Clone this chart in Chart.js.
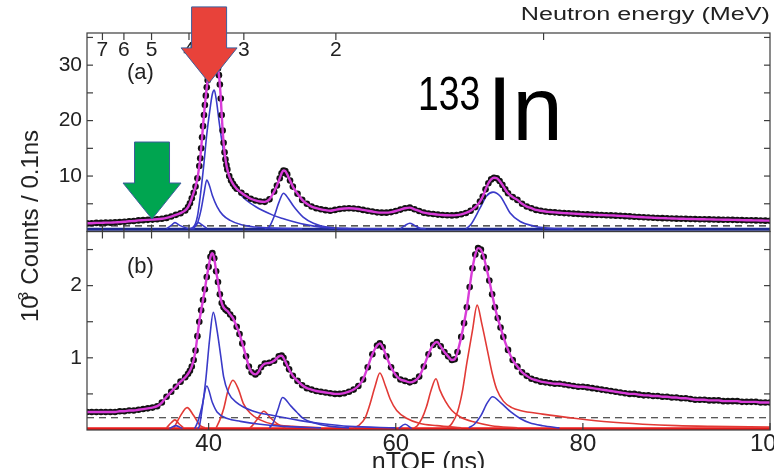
<!DOCTYPE html>
<html><head><meta charset="utf-8">
<script src="https://cdn.jsdelivr.net/npm/chart.js@4.4.1/dist/chart.umd.min.js"></script>
<style>html,body{margin:0;padding:0;background:#fff;}#wrap{width:774px;height:468px;}</style>
</head><body><div id="wrap"><canvas id="c" width="774" height="468"></canvas></div>
<script>
// ---------- axis ticks / labels ----------
const tofTicks = [40, 60, 80, 100];
const yTicksA = [5, 10, 15, 20, 25, 30, 35];
const yLabelsA = [10, 20, 30];
const yTicksB = [0.5, 1, 1.5, 2, 2.5];
const yLabelsB = [1, 2];
const energyTicks = [7, 6, 5, 4, 3, 2, 1];
const energyLabels = ['7', '6', '5', '4', '3', '2', ''];
const FLIGHT_K = 75.8; // ns * sqrt(MeV): nTOF = K / sqrt(E)

// ---------- panel (a): data (fit drawn through the same points) ----------
const dataA = [[27,1.5],[27.5,1.5],[28,1.55],[28.5,1.55],[29,1.6],[29.5,1.6],[30,1.65],[30.5,1.7],[31,1.75],[31.5,1.85],[32,1.9],[32.5,2.0],[33,2.05],[33.5,2.1],[34,2.15],[34.5,2.2],[35,2.3],[35.5,2.45],[36,2.7],[36.5,3.0],[37,3.3],[37.5,3.8],[37.8,4.4],[38.0,5.1],[38.2,6.0],[38.4,7.0],[38.6,8.1],[38.8,9.6],[39.0,11.8],[39.1,13.2],[39.2,15.0],[39.3,17.0],[39.4,19.0],[39.5,21.0],[39.6,22.8],[39.7,24.5],[39.8,26.0],[39.9,27.3],[40.0,28.5],[40.1,29.6],[40.2,30.5],[40.3,31.3],[40.4,31.8],[40.5,32.1],[40.6,32.2],[40.7,32.0],[40.8,31.4],[40.9,30.5],[41.0,29.4],[41.1,28.2],[41.2,26.5],[41.3,24.0],[41.4,21.0],[41.5,18.2],[41.6,16.0],[41.7,14.3],[41.8,13.0],[41.9,12.0],[42.0,11.2],[42.2,10.0],[42.4,9.2],[42.6,8.6],[42.8,8.1],[43.0,7.7],[43.5,7.0],[44,6.4],[44.5,5.9],[45,5.6],[45.5,5.4],[46,5.35],[46.5,5.8],[47,7.2],[47.3,8.3],[47.6,9.6],[47.8,10.5],[48,11.0],[48.2,10.9],[48.4,10.3],[48.7,9.2],[49,8.1],[49.5,6.8],[50,5.7],[50.5,5.0],[51,4.5],[51.5,4.2],[52,4.0],[52.5,3.85],[53,3.75],[53.5,3.9],[54,4.05],[54.5,4.15],[55,4.2],[55.5,4.15],[56,4.05],[56.5,3.9],[57,3.75],[57.5,3.6],[58,3.45],[58.5,3.4],[59,3.4],[59.5,3.5],[60,3.7],[60.5,3.95],[61,4.2],[61.5,4.3],[62,4.0],[62.5,3.7],[63,3.4],[63.5,3.25],[64,3.15],[64.5,3.05],[65,2.97],[65.5,2.92],[66,2.9],[66.5,2.95],[67,3.1],[67.5,3.35],[68,3.75],[68.5,4.4],[69,5.4],[69.3,6.3],[69.6,7.6],[69.9,8.7],[70.2,9.4],[70.5,9.7],[70.8,9.6],[71.1,9.1],[71.4,8.4],[71.7,7.6],[72,6.9],[72.5,6.2],[73,5.7],[73.5,5.0],[74,4.5],[74.5,4.2],[75,3.9],[75.5,3.75],[76,3.6],[76.5,3.52],[77,3.45],[77.5,3.38],[78,3.32],[78.5,3.27],[79,3.22],[79.5,3.17],[80,3.12],[80.5,3.08],[81,3.04],[81.5,3.0],[82,2.97],[82.5,2.93],[83,2.9],[83.5,2.86],[84,2.82],[84.5,2.77],[85,2.72],[85.5,2.67],[86,2.62],[86.5,2.57],[87,2.52],[87.5,2.48],[88,2.44],[88.5,2.41],[89,2.38],[89.5,2.35],[90,2.32],[90.5,2.3],[91,2.28],[91.5,2.26],[92,2.24],[92.5,2.22],[93,2.2],[93.5,2.18],[94,2.16],[94.5,2.14],[95,2.12],[95.5,2.11],[96,2.1],[96.5,2.08],[97,2.06],[97.5,2.04],[98,2.02],[98.5,2.0],[99,1.98],[99.5,1.96],[100,1.95]];

// panel (a) fit components (blue)
const blueA1 = [[38.0,0.5],[38.4,0.8],[38.8,2.7],[39.1,6.3],[39.5,12.3],[39.8,17.5],[40.1,21.5],[40.4,24.8],[40.6,25.5],[40.8,24.0],[41.1,20.1],[41.4,16.5],[41.9,11.7],[42.6,8.7],[43.6,6.3],[45,4.5],[46.8,3.0],[48,2.3],[49,1.8],[50.5,1.2],[52.2,0.75],[55,0.55],[60,0.5]];
const blueA2 = [[38.3,0.5],[38.8,1.5],[39.2,4.0],[39.5,6.8],[39.8,9.3],[40.1,8.2],[40.4,6.5],[40.9,4.5],[41.5,3.0],[42.3,2.0],[43.5,1.2],[45,0.8],[47,0.6],[50,0.5]];
const blueA3 = [[46.0,0.5],[46.5,0.9],[47.0,2.7],[47.5,5.2],[48.0,6.9],[48.5,6.0],[49.1,4.5],[50.1,2.6],[51.2,1.5],[52.6,0.8],[54,0.55],[56,0.5]];
const blueA4 = [[35.5,0.5],[36.0,1.1],[36.4,1.6],[36.9,1.1],[37.7,0.6],[38.5,0.5]];
const blueA5 = [[38.2,0.5],[38.6,1.2],[38.9,1.6],[39.3,1.2],[39.8,0.6]];
const blueA6 = [[60.5,0.5],[61.0,1.1],[61.5,1.5],[62.0,1.1],[62.6,0.6],[63.2,0.5]];
const blueA7 = [[67.5,0.5],[68.0,1.2],[69.0,4.2],[69.7,6.4],[70.4,7.1],[71.2,6.3],[71.7,4.9],[72.2,3.4],[73.3,1.8],[74.7,1.0],[75.7,0.7],[77,0.55],[79,0.5]];
const baseA = [[27,0.4],[100,0.4]];
const dashA = [[27,1.0],[100,1.0]];

// ---------- panel (b) ----------
const dataB = [[27,0.25],[27.5,0.25],[28,0.25],[28.5,0.25],[29,0.25],[29.5,0.25],[30,0.25],[30.5,0.26],[31,0.26],[31.5,0.27],[32,0.27],[32.5,0.28],[33,0.29],[33.5,0.3],[34,0.31],[34.5,0.33],[35,0.38],[35.5,0.46],[36,0.53],[36.5,0.6],[37,0.67],[37.5,0.73],[37.8,0.78],[38.0,0.82],[38.2,0.88],[38.4,0.97],[38.6,1.1],[38.8,1.3],[39.0,1.5],[39.2,1.66],[39.4,1.8],[39.6,1.95],[39.8,2.12],[40.0,2.26],[40.2,2.4],[40.4,2.45],[40.6,2.38],[40.8,2.2],[41.0,2.05],[41.2,1.88],[41.4,1.76],[41.6,1.7],[41.8,1.67],[42.0,1.65],[42.3,1.6],[42.6,1.55],[43.0,1.43],[43.3,1.33],[43.6,1.2],[44.0,1.02],[44.3,0.88],[44.6,0.8],[45.0,0.77],[45.3,0.8],[45.6,0.87],[46,0.92],[46.5,0.93],[47,0.96],[47.5,1.02],[47.8,1.03],[48,1.0],[48.3,0.92],[48.6,0.84],[49,0.75],[49.5,0.68],[50,0.62],[50.5,0.58],[51,0.56],[51.5,0.54],[52,0.53],[52.5,0.52],[53,0.51],[53.5,0.5],[54,0.5],[54.5,0.51],[55,0.53],[55.5,0.56],[56,0.61],[56.5,0.7],[57,0.87],[57.5,1.05],[58,1.17],[58.3,1.2],[58.6,1.15],[59,1.02],[59.5,0.87],[60,0.76],[60.5,0.7],[61,0.68],[61.5,0.66],[62,0.68],[62.5,0.74],[63,0.88],[63.5,1.05],[64,1.18],[64.4,1.22],[64.8,1.16],[65.2,1.08],[65.6,1.02],[66,0.97],[66.3,0.98],[66.6,1.08],[67,1.29],[67.3,1.48],[67.6,1.7],[67.9,1.98],[68.2,2.24],[68.5,2.43],[68.8,2.52],[69.1,2.5],[69.4,2.4],[69.7,2.24],[70.0,2.07],[70.3,1.88],[70.6,1.7],[70.9,1.55],[71.2,1.42],[71.5,1.29],[72,1.11],[72.5,0.97],[73,0.88],[73.5,0.8],[74,0.75],[74.5,0.71],[75,0.69],[75.5,0.67],[76,0.66],[76.5,0.65],[77,0.64],[77.5,0.64],[78,0.63],[78.5,0.62],[79,0.61],[79.5,0.6],[80,0.6],[80.5,0.59],[81,0.58],[81.5,0.57],[82,0.56],[82.5,0.55],[83,0.54],[83.5,0.53],[84,0.52],[84.5,0.51],[85,0.5],[85.5,0.5],[86,0.49],[86.5,0.48],[87,0.48],[87.5,0.47],[88,0.47],[88.5,0.46],[89,0.46],[89.5,0.45],[90,0.45],[90.5,0.44],[91,0.44],[91.5,0.43],[92,0.42],[92.5,0.42],[93,0.42],[93.5,0.41],[94,0.41],[94.5,0.41],[95,0.4],[95.5,0.4],[96,0.4],[96.5,0.4],[97,0.39],[97.5,0.39],[98,0.39],[98.5,0.39],[99,0.38],[99.5,0.38],[100,0.38]];

const blueB1 = [[38.8,0.02],[39.0,0.05],[39.3,0.29],[39.7,0.70],[40.1,1.25],[40.5,1.63],[40.9,1.38],[41.3,1.02],[41.6,0.74],[42.1,0.52],[43.0,0.38],[44.8,0.26],[46.9,0.2],[49.8,0.13],[52,0.09],[55,0.05],[60,0.03]];
const blueB2 = [[38.5,0.02],[38.8,0.1],[39.3,0.33],[39.8,0.61],[40.4,0.38],[40.9,0.25],[42.0,0.16],[43.4,0.12],[45.5,0.08],[48,0.05],[52,0.03]];
const blueB3 = [[46.5,0.03],[46.9,0.1],[47.4,0.28],[47.9,0.45],[48.8,0.33],[49.4,0.25],[50.1,0.16],[51.2,0.1],[53,0.05],[55,0.03]];
const blueB4 = [[67.8,0.03],[68.4,0.08],[69.1,0.2],[69.8,0.38],[70.35,0.46],[71.2,0.38],[72.3,0.25],[73.3,0.16],[74.3,0.1],[75.7,0.06],[77.5,0.03]];
const blueB5 = [[60.3,0.02],[61.0,0.08],[61.7,0.02]];
const blueB6 = [[35.8,0.02],[36.5,0.06],[37.2,0.02]];
const redB1 = [[36.3,0.03],[36.5,0.08],[37.0,0.2],[37.7,0.31],[38.4,0.2],[39.1,0.06],[39.6,0.03]];
const redB2 = [[35.5,0.03],[36.0,0.1],[36.4,0.14],[36.8,0.09],[37.3,0.03]];
const redB3 = [[40.8,0.03],[41.2,0.14],[41.6,0.29],[42.1,0.56],[42.6,0.69],[43.2,0.56],[43.7,0.37],[44.4,0.24],[45.5,0.14],[46.9,0.08],[49,0.05],[52,0.03]];
const redB4 = [[44.4,0.03],[44.6,0.05],[45.2,0.15],[45.9,0.26],[46.6,0.17],[47.4,0.08],[48.2,0.03]];
const redB5 = [[55.5,0.03],[56.0,0.06],[56.7,0.16],[57.2,0.34],[57.8,0.61],[58.3,0.79],[58.9,0.61],[59.4,0.43],[60.1,0.27],[61.2,0.16],[62.6,0.09],[64.4,0.06],[67,0.03]];
const redB6 = [[62.0,0.03],[62.3,0.06],[62.8,0.16],[63.3,0.33],[63.8,0.56],[64.3,0.71],[64.7,0.56],[65.3,0.4],[66.0,0.27],[66.9,0.18],[68.4,0.11],[70.2,0.06],[73,0.03]];
const redB7 = [[65.5,0.03],[66.0,0.09],[66.6,0.25],[67.1,0.52],[67.6,0.93],[68.2,1.38],[68.7,1.73],[69.2,1.47],[69.8,1.1],[70.3,0.79],[70.8,0.56],[71.5,0.40],[72.4,0.31],[73.3,0.27],[75.7,0.22],[79.3,0.16],[82.9,0.11],[86.4,0.08],[90,0.06],[93.6,0.05],[100,0.04]];
const baseB = [[27,0.015],[100,0.015]];
const dashB = [[27,0.17],[100,0.17]];

// annotation anchors (data coordinates, panel a)
const arrowRed = {t: 40.05, v: 26.8};
const arrowGreen = {t: 33.95, v: 2.25};

// ---------- styles ----------
const FONT = "'Liberation Sans', Arial, Helvetica, sans-serif";
const C_FIT = '#d83cd8', C_BLUE = '#3a3ac8', C_RED = '#e23a36', C_NAVY = '#1c2890', C_TXT = '#222';
const xy = a => a.map(p => ({x: p[0], y: p[1]}));
function curve(arr, axis, color, width, order, dash) {
  return {data: xy(arr), yAxisID: axis, borderColor: color, borderWidth: width, pointRadius: 0,
    fill: false, cubicInterpolationMode: 'monotone', order: order, borderDash: dash || [], showLine: true};
}
function dots(arr, axis) {
  return {data: xy(arr), yAxisID: axis, showLine: false, pointRadius: 3.3, pointBackgroundColor: '#121212',
    pointBorderWidth: 0, order: 2};
}
const datasets = [
  curve(dataA, 'ya', C_FIT, 2.4, 0), dots(dataA, 'ya'),
  curve(dataB, 'yb', C_FIT, 2.4, 0), dots(dataB, 'yb'),
  ...[blueA1, blueA2, blueA3, blueA4, blueA5, blueA6, blueA7].map(a => curve(a, 'ya', C_BLUE, 1.6, 3)),
  curve(baseA, 'ya', C_NAVY, 3, 5), curve(dashA, 'ya', '#222', 1.2, 4, [7, 5]),
  ...[blueB1, blueB2, blueB3, blueB4, blueB5, blueB6].map(a => curve(a, 'yb', C_BLUE, 1.6, 3)),
  ...[redB1, redB2, redB3, redB4, redB5, redB6, redB7].map(a => curve(a, 'yb', C_RED, 1.6, 3)),
  curve(baseB, 'yb', '#e81a1a', 3.5, 5), curve(dashB, 'yb', '#222', 1.2, 4, [7, 5])
];

const hide = {display: false, drawTicks: false};
const deco = {
  id: 'deco',
  afterDraw(chart) {
    const ctx = chart.ctx, xs = chart.scales.x, ya = chart.scales.ya, yb = chart.scales.yb;
    const L = chart.chartArea.left, R = chart.chartArea.right;
    ctx.save();
    ctx.strokeStyle = '#3c3c3c'; ctx.lineWidth = 1.2;
    ctx.strokeRect(L, ya.top, R - L, ya.bottom - ya.top);
    ctx.strokeRect(L, yb.top, R - L, yb.bottom - yb.top);
    const tk = (x1, y1, x2, y2) => { ctx.beginPath(); ctx.moveTo(x1, y1); ctx.lineTo(x2, y2); ctx.stroke(); };
    yTicksA.forEach(v => { const y = ya.getPixelForValue(v); tk(L, y, L + 6, y); tk(R, y, R - 6, y); });
    yTicksB.forEach(v => { const y = yb.getPixelForValue(v); tk(L, y, L + 6, y); tk(R, y, R - 6, y); });
    tofTicks.forEach(v => { const x = xs.getPixelForValue(v); tk(x, yb.bottom, x, yb.bottom - 7); });
    energyTicks.forEach(E => { const x = xs.getPixelForValue(FLIGHT_K / Math.sqrt(E));
      tk(x, ya.top, x, ya.top + 7); tk(x, ya.bottom - 7, x, ya.bottom + 7); });
    ctx.fillStyle = C_TXT;
    ctx.font = '21px ' + FONT; ctx.textAlign = 'center'; ctx.textBaseline = 'middle';
    energyTicks.forEach((E, i) => { if (energyLabels[i]) ctx.fillText(energyLabels[i], xs.getPixelForValue(FLIGHT_K / Math.sqrt(E)), ya.top + 17); });
    ctx.font = '22px ' + FONT; ctx.textAlign = 'left';
    ctx.fillText('(a)', L + 40, ya.top + 40);
    ctx.fillText('(b)', L + 40, yb.top + 35);
    // top title
    ctx.save(); ctx.font = '18px ' + FONT; ctx.textAlign = 'right'; ctx.textBaseline = 'alphabetic';
    ctx.translate(R, 20); ctx.scale(1.4, 1); ctx.fillText('Neutron energy (MeV)', 0, 0); ctx.restore();
    // x title
    ctx.font = '25px ' + FONT; ctx.textAlign = 'center'; ctx.textBaseline = 'alphabetic';
    ctx.fillText('nTOF (ns)', (L + R) / 2, 470);
    // y title
    ctx.save(); ctx.translate(38, 322); ctx.rotate(-Math.PI / 2); ctx.textAlign = 'left'; ctx.textBaseline = 'alphabetic';
    ctx.font = '24px ' + FONT; ctx.fillText('10', 0, 0); const w10 = ctx.measureText('10').width;
    ctx.font = '15px ' + FONT; ctx.fillText('3', w10 - 5, -10);
    ctx.font = '24px ' + FONT; ctx.fillText(' Counts / 0.1ns', w10 + 4, 0);
    ctx.restore();
    // isotope label
    ctx.fillStyle = '#000';
    ctx.save(); ctx.font = '49px ' + FONT; ctx.textAlign = 'left'; ctx.translate(418, 110); ctx.scale(0.76, 1); ctx.fillText('133', 0, 0); ctx.restore();
    ctx.font = '91px ' + FONT; ctx.textAlign = 'left'; ctx.textBaseline = 'alphabetic'; ctx.fillText('In', 487, 140);
    // arrows
    const arrow = (a, fill, shaftHalf, headHalf, headLen, totalLen) => {
      const x = xs.getPixelForValue(a.t), y = ya.getPixelForValue(a.v);
      ctx.beginPath();
      ctx.moveTo(x, y); ctx.lineTo(x - headHalf, y - headLen); ctx.lineTo(x - shaftHalf, y - headLen);
      ctx.lineTo(x - shaftHalf, y - totalLen); ctx.lineTo(x + shaftHalf, y - totalLen); ctx.lineTo(x + shaftHalf, y - headLen);
      ctx.lineTo(x + headHalf, y - headLen); ctx.closePath();
      ctx.fillStyle = fill; ctx.fill(); ctx.strokeStyle = '#3b5e9c'; ctx.lineWidth = 1; ctx.stroke();
    };
    arrow(arrowRed, '#e8423a', 17.5, 28, 35, 76);
    arrow(arrowGreen, '#00a550', 17.5, 29, 36, 77);
    ctx.restore();
  }
};

new Chart(document.getElementById('c'), {
  type: 'line',
  data: {datasets},
  options: {
    responsive: false, animation: false, devicePixelRatio: 1,
    layout: {padding: {top: 33, left: 40, right: 4, bottom: 0}},
    plugins: {legend: {display: false}, tooltip: {enabled: false}},
    scales: {
      x: {type: 'linear', min: 27, max: 100, position: 'bottom', grid: hide, border: {display: false},
        ticks: {font: {family: FONT, size: 24}, color: C_TXT, padding: 0, maxRotation: 0, autoSkip: false, callback: v => String(v)},
        afterBuildTicks: s => { s.ticks = tofTicks.map(v => ({value: v})); },
        afterFit: s => { s.height = 38; s.paddingLeft = 0; s.paddingRight = 0; }},
      yb: {type: 'linear', position: 'left', stack: 'panels', stackWeight: 1, min: 0, max: 2.75, grid: hide, border: {display: false},
        ticks: {font: {family: FONT, size: 21}, color: C_TXT, padding: 5, autoSkip: false, callback: v => yLabelsB.includes(v) ? String(v) : ''},
        afterBuildTicks: s => { s.ticks = yTicksB.map(v => ({value: v})); },
        afterFit: s => { s.width = 47; s.paddingTop = 0; s.paddingBottom = 0; }},
      ya: {type: 'linear', position: 'left', stack: 'panels', stackWeight: 1, min: 0, max: 35.8, grid: hide, border: {display: false},
        ticks: {font: {family: FONT, size: 21}, color: C_TXT, padding: 5, autoSkip: false, callback: v => yLabelsA.includes(v) ? String(v) : ''},
        afterBuildTicks: s => { s.ticks = yTicksA.map(v => ({value: v})); },
        afterFit: s => { s.width = 47; s.paddingTop = 0; s.paddingBottom = 0; }}
    }
  },
  plugins: [deco]
});
</script></body></html>
